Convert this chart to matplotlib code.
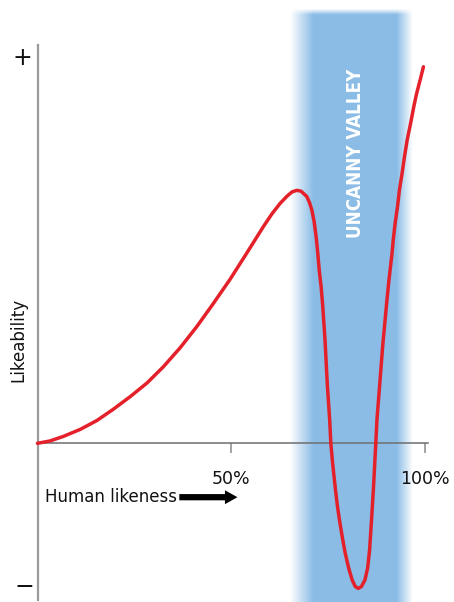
import numpy as np
import matplotlib.pyplot as plt

# curve: human likeness (%) vs likeability (arbitrary units, + = 100)
likeness = [0, 3.2, 6.7, 11.0, 15.3, 19.5, 23.9, 28.3, 32.5, 36.8, 41.1, 45.3, 49.7,
            54.0, 58.3, 60.5, 62.6, 64.4, 65.7, 66.9, 68.0, 69.5, 70.2, 70.8, 71.4,
            71.9, 72.3, 72.7, 73.2, 73.6, 74.2, 74.8, 75.4, 75.7, 76.2, 76.9, 77.4,
            78.0, 78.7, 79.4, 80.3, 81.2, 82.0, 82.8, 83.6, 84.5, 85.2, 85.7, 86.2,
            86.7, 87.3, 87.6, 88.3, 89.1, 89.7, 90.1, 90.7, 91.5, 91.8, 92.3, 92.9,
            93.4, 94.1, 94.7, 95.4, 96.3, 97.1, 97.8, 98.7, 99.6]
likeability = [0, 0.6, 1.8, 3.6, 5.9, 8.8, 12.1, 15.7, 19.9, 24.8, 30.3, 36.2, 42.6,
               49.4, 56.3, 59.6, 62.3, 64.2, 65.3, 65.7, 65.5, 64.1, 62.5, 60.6, 57.5,
               53.7, 49.7, 45.0, 40.6, 35.8, 26.8, 15.1, 6.1, 0, -5.6, -12.1, -16.3,
               -20.4, -24.6, -28.5, -32.4, -35.5, -37.2, -37.7, -37.2, -35.5, -32.4,
               -27.7, -19.9, -11.6, 0, 6.1, 15.1, 25.5, 32.0, 36.4, 42.4, 49.4, 52.8,
               57.2, 61.4, 65.8, 70.2, 74.4, 78.8, 83.2, 87.4, 90.7, 94.2, 97.8]

valley_start, valley_end = 65.2, 96.9
xticks = [50, 100]
xticklabels = ['50%', '100%']

x0, sx = 37.5, 3.875   # pixel of 0% and pixels per %
y0, sy = 443.3, 3.85   # pixel of zero likeability and pixels per unit

fig = plt.figure(figsize=(4.54, 6.02), dpi=100)
ax = fig.add_axes([0, 0, 1, 1])
ax.set_xlim(-x0 / sx, (454 - x0) / sx)
ax.set_ylim((y0 - 602) / sy, y0 / sy)

# blue band with soft edges
blue = np.array([0.545, 0.741, 0.902])
nx, ny = 400, 400
xs = np.linspace(0, 1, nx)
w = valley_end - valley_start
fade_l = 6.0 / w
fade_r = 4.2 / w
alpha_x = np.clip(np.minimum(xs / fade_l, (1 - xs) / fade_r), 0, 1)
ys = np.linspace(0, 1, ny)
alpha_y = np.clip(ys / 0.01, 0, 1)
alpha = np.outer(alpha_y, alpha_x)
img = np.zeros((ny, nx, 4))
img[..., :3] = blue
img[..., 3] = alpha
top = (y0 - 8) / sy
ax.imshow(img, extent=(valley_start, valley_end, (y0 - 602) / sy, top), aspect='auto',
          interpolation='bilinear', zorder=1, origin='upper')
ax.text(82.0, (y0 - 153) / sy, 'UNCANNY VALLEY',
        rotation=90, color='white', fontsize=13.5, fontweight='bold',
        fontstretch='condensed', ha='center', va='center', zorder=3)

# axes
for s in ['top', 'right']:
    ax.spines[s].set_visible(False)
ax.spines['left'].set_position(('data', 0))
ax.spines['bottom'].set_position(('data', 0))
ax.spines['left'].set_bounds((y0 - 600) / sy, (y0 - 45) / sy)
ax.spines['bottom'].set_bounds(0, 100.8)
ax.spines['left'].set_color('#9a9a9a')
ax.spines['left'].set_linewidth(1.6)
ax.spines['bottom'].set_color('#6e6e6e')
ax.spines['bottom'].set_linewidth(1.1)
ax.spines['bottom'].set_zorder(2)
ax.set_yticks([])
ax.set_xticks(xticks)
ax.set_xticklabels(xticklabels)
ax.tick_params(axis='x', direction='out', length=7, width=1.1, color='#8a8a8a',
               pad=12, labelsize=12.5, labelcolor='#111111')

ax.plot(likeness, likeability, color='#e4202a', lw=2.5, solid_capstyle='round',
        solid_joinstyle='round', zorder=4)

ax.text(-3.9, 100, '+', fontsize=17, ha='center', va='center', color='#111111')
ax.text(-3.4, -37.4, '\u2212', fontsize=17, ha='center', va='center', color='#111111')
ax.text(-4.9, 26.8, 'Likeability', rotation=90, fontsize=12, ha='center', va='center',
        color='#111111')
ax.text(2.0, -14.0, 'Human likeness', fontsize=12, ha='left', va='center', color='#111111')
ax.annotate('', xy=(51.6, -14.0), xytext=(36.6, -14.0),
            arrowprops=dict(arrowstyle='simple,head_length=0.9,head_width=1.0,tail_width=0.45',
                            color='black', lw=0, shrinkA=0, shrinkB=0))

fig.savefig('out.png', dpi=100)
